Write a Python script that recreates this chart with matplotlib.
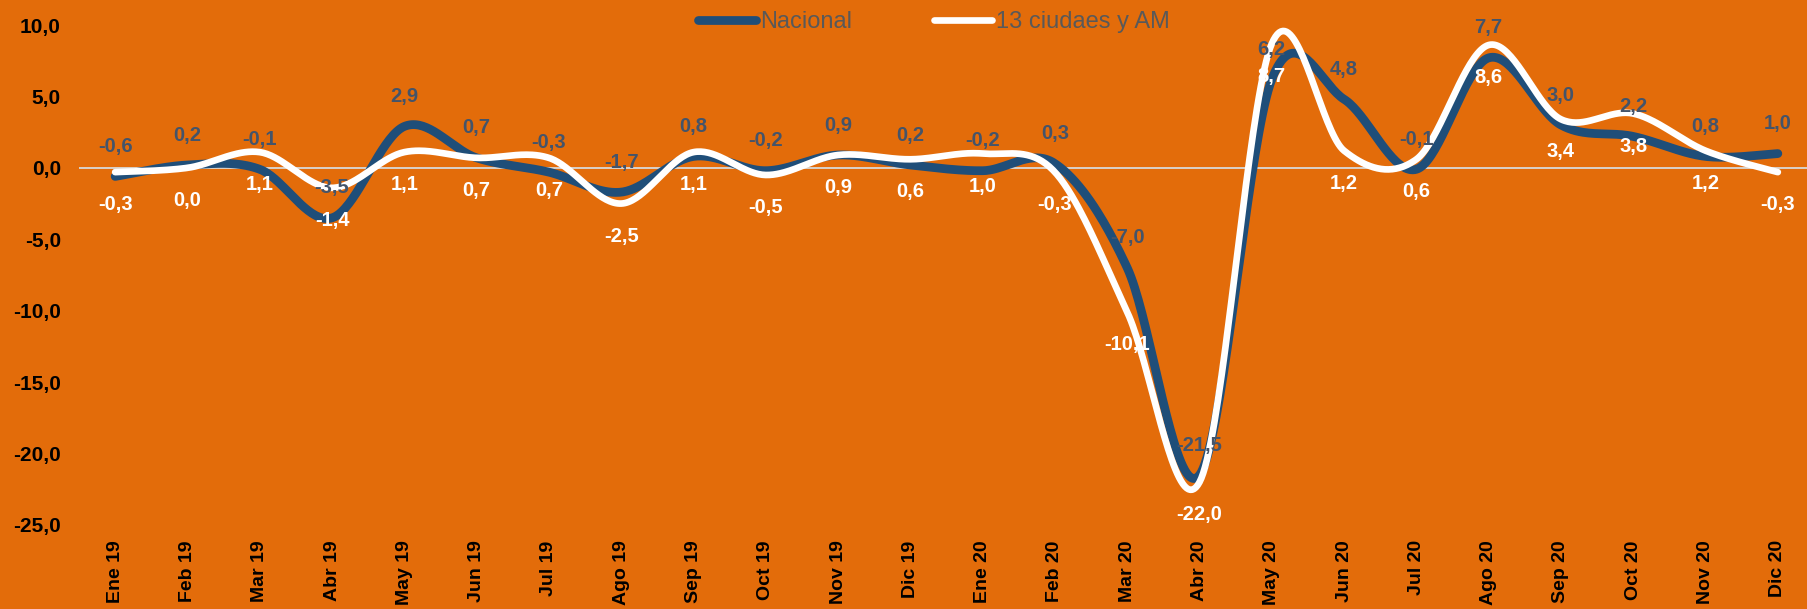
import numpy as np
import matplotlib
matplotlib.use('Agg')
import matplotlib.pyplot as plt
from matplotlib.ticker import FuncFormatter, FixedLocator

months = ['Ene 19', 'Feb 19', 'Mar 19', 'Abr 19', 'May 19', 'Jun 19', 'Jul 19', 'Ago 19',
          'Sep 19', 'Oct 19', 'Nov 19', 'Dic 19', 'Ene 20', 'Feb 20', 'Mar 20', 'Abr 20',
          'May 20', 'Jun 20', 'Jul 20', 'Ago 20', 'Sep 20', 'Oct 20', 'Nov 20', 'Dic 20']
nacional = [-0.6, 0.2, -0.1, -3.5, 2.9, 0.7, -0.3, -1.7, 0.8, -0.2, 0.9, 0.2,
            -0.2, 0.3, -7.0, -21.5, 6.2, 4.8, -0.1, 7.7, 3.0, 2.2, 0.8, 1.0]
ciudades = [-0.3, 0.0, 1.1, -1.4, 1.1, 0.7, 0.7, -2.5, 1.1, -0.5, 0.9, 0.6,
            1.0, -0.3, -10.1, -22.0, 8.7, 1.2, 0.6, 8.6, 3.4, 3.8, 1.2, -0.3]
series_names = ['Nacional', '13 ciudaes y AM']
yticks = [10, 5, 0, -5, -10, -15, -20, -25]

BG = '#E36C0A'
DARK = '#1F4E79'
LABEL_DARK = '#44546A'
LEGEND_TXT = '#595959'

plt.rcParams['font.family'] = ['Liberation Sans', 'DejaVu Sans']


def smooth(y, n=40):
    y = np.asarray(y, float)
    x = np.arange(len(y), dtype=float)
    P = np.column_stack([x, y])
    E = np.vstack([P[0], P, P[-1]])
    out = []
    t = np.linspace(0, 1, n)[:, None]
    for i in range(len(P) - 1):
        p0, p1, p2, p3 = E[i], E[i + 1], E[i + 2], E[i + 3]
        c1 = p1 + (p2 - p0) / 6.0
        c2 = p2 - (p3 - p1) / 6.0
        seg = (1 - t) ** 3 * p1 + 3 * (1 - t) ** 2 * t * c1 + 3 * (1 - t) * t ** 2 * c2 + t ** 3 * p2
        out.append(seg if i == 0 else seg[1:])
    return np.vstack(out)


def fmt(v):
    return f"{v:.1f}".replace('.', ',')


W, H = 1808, 609
fig = plt.figure(figsize=(W / 100, H / 100), dpi=100, facecolor=BG)
left, right, top, bottom = 79, 1814, 25, 525
ax = fig.add_axes([left / W, 1 - bottom / H, (right - left) / W, (bottom - top) / H])
ax.set_facecolor(BG)

x = np.arange(len(months))
ax.axhline(0, color='#D9D9D9', lw=1.3, zorder=1)

sn = smooth(nacional)
sc = smooth(ciudades)
ln1, = ax.plot(sn[:, 0], sn[:, 1], color=DARK, lw=6.3, solid_capstyle='round', zorder=3, label=series_names[0])
ln2, = ax.plot(sc[:, 0], sc[:, 1], color='white', lw=4.8, solid_capstyle='round', zorder=4, label=series_names[1])

for xi, v in zip(x, nacional):
    ax.annotate(fmt(v), (xi, v), xytext=(0, 21.5), textcoords='offset points',
                ha='center', va='center', fontsize=14.5, fontweight='bold', color=LABEL_DARK, zorder=6)
for xi, v in zip(x, ciudades):
    ax.annotate(fmt(v), (xi, v), xytext=(0, -23.5), textcoords='offset points',
                ha='center', va='center', fontsize=14.5, fontweight='bold', color='white', zorder=6)

ax.set_xlim(-0.5, len(months) - 0.5)
ax.set_ylim(-25, 10)
ax.yaxis.set_major_locator(FixedLocator(yticks))
ax.yaxis.set_major_formatter(FuncFormatter(lambda v, p: fmt(v)))
ax.set_xticks(x)
ax.set_xticklabels(months, rotation=90, fontsize=14, fontweight='bold', color='black')
for lab in ax.get_yticklabels():
    lab.set_fontsize(15)
    lab.set_fontweight('bold')
ax.tick_params(axis='y', length=0, pad=13)
ax.tick_params(axis='x', length=0, pad=11)
for s in ax.spines.values():
    s.set_visible(False)

leg = fig.legend(handles=[ln1, ln2], loc='center', bbox_to_anchor=(934 / W, 1 - 22 / H),
                 ncol=2, frameon=False, fontsize=17, handlelength=2.45, handletextpad=0.15,
                 columnspacing=3.5, labelcolor=LEGEND_TXT)

fig.savefig('out.png', dpi=100, facecolor=BG)
